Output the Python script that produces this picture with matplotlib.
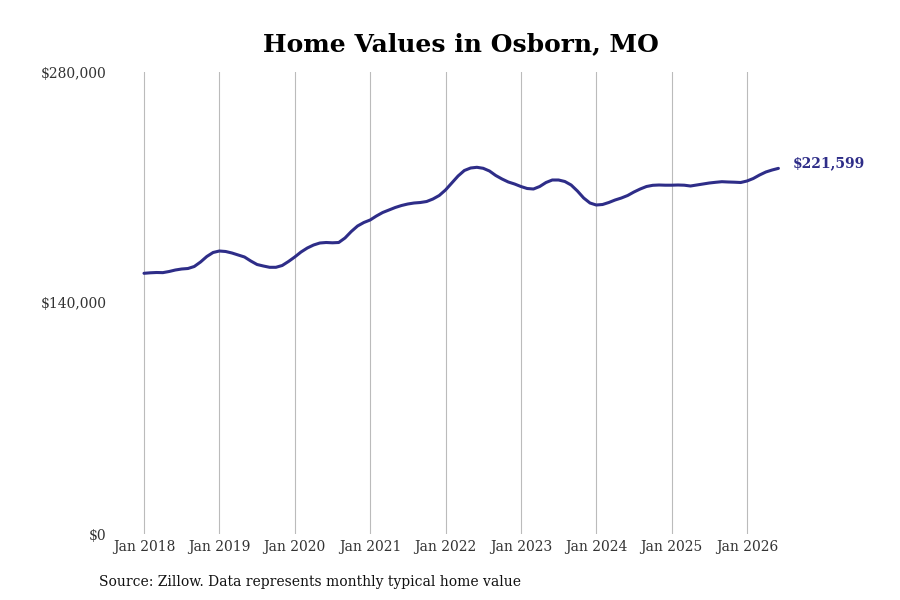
import matplotlib
matplotlib.use("Agg")
import matplotlib.pyplot as plt

# Monthly typical home value, Jan 2018 .. Jun 2026
values = [
    158000, 158303, 158485, 158400, 159091, 160000, 160606, 160909, 162121, 164848, 168182, 170606,
    171515, 171212, 170303, 169091, 167879, 165455, 163333, 162424, 161636, 161636, 162727, 165152,
    167879, 170909, 173333, 175152, 176364, 176667, 176485, 176667, 179394, 183333, 186667, 188788,
    190303, 192727, 194848, 196364, 197879, 199091, 200000, 200606, 200909, 201515, 203030, 205152,
    208485, 212727, 216970, 220303, 221818, 222242, 221636, 220000, 217273, 215152, 213333, 212121,
    210606, 209394, 209091, 210606, 213030, 214545, 214545, 213636, 211515, 207879, 203636, 200606,
    199394, 199697, 200909, 202424, 203636, 205152, 207273, 209091, 210606, 211333, 211515, 211394,
    211394, 211515, 211394, 210909, 211515, 212121, 212727, 213152, 213515, 213333, 213212, 213030,
    213939, 215455, 217576, 219394, 220606, 221599,
]
tick_labels = ["Jan 2018", "Jan 2019", "Jan 2020", "Jan 2021", "Jan 2022",
               "Jan 2023", "Jan 2024", "Jan 2025", "Jan 2026"]
ytick_values = [0, 140000, 280000]
ytick_labels = ["$0", "$140,000", "$280,000"]
title = "Home Values in Osborn, MO"
source = "Source: Zillow. Data represents monthly typical home value"
end_label = "$221,599"

plt.rcParams['font.family'] = ['DejaVu Serif']
line_color = "#2e2d88"

fig = plt.figure(figsize=(9, 6), dpi=100)
W, H = 900, 600
ax_left, ax_right, ax_top, ax_bottom = 115, 800, 72, 534
ax = fig.add_axes([ax_left / W, 1 - ax_bottom / H, (ax_right - ax_left) / W, (ax_bottom - ax_top) / H])

x = list(range(len(values)))
ax.plot(x, values, color=line_color, linewidth=2.2, solid_capstyle='round')

px_per_month = (747 - 144) / 96
ax.set_xlim((ax_left - 144) / px_per_month, (ax_right - 144) / px_per_month)
ax.set_ylim(0, 280000)

ax.set_xticks([12 * i for i in range(len(tick_labels))])
ax.set_xticklabels(tick_labels, fontsize=10, color="#333333")
ax.set_yticks(ytick_values)
ax.set_yticklabels(ytick_labels, fontsize=10, color="#333333")
ax.tick_params(axis='both', length=0)
ax.tick_params(axis='y', pad=6)
ax.tick_params(axis='x', pad=4)

ax.grid(axis='x', color="#bbbbbb", linewidth=0.8)
ax.grid(axis='y', visible=False)
for s in ax.spines.values():
    s.set_visible(False)

ax.annotate(end_label, xy=(x[-1], values[-1]), xytext=(10, 4), textcoords='offset points',
            fontsize=10, fontweight='bold', color=line_color, va='center', ha='left')

fig.text(461 / W, 1 - 44 / H, title, fontsize=18, fontweight='bold', ha='center', va='center')
fig.text(99 / W, 1 - 582 / H, source, fontsize=10, ha='left', va='center', color="#111111")

fig.savefig("out.png", dpi=100)
